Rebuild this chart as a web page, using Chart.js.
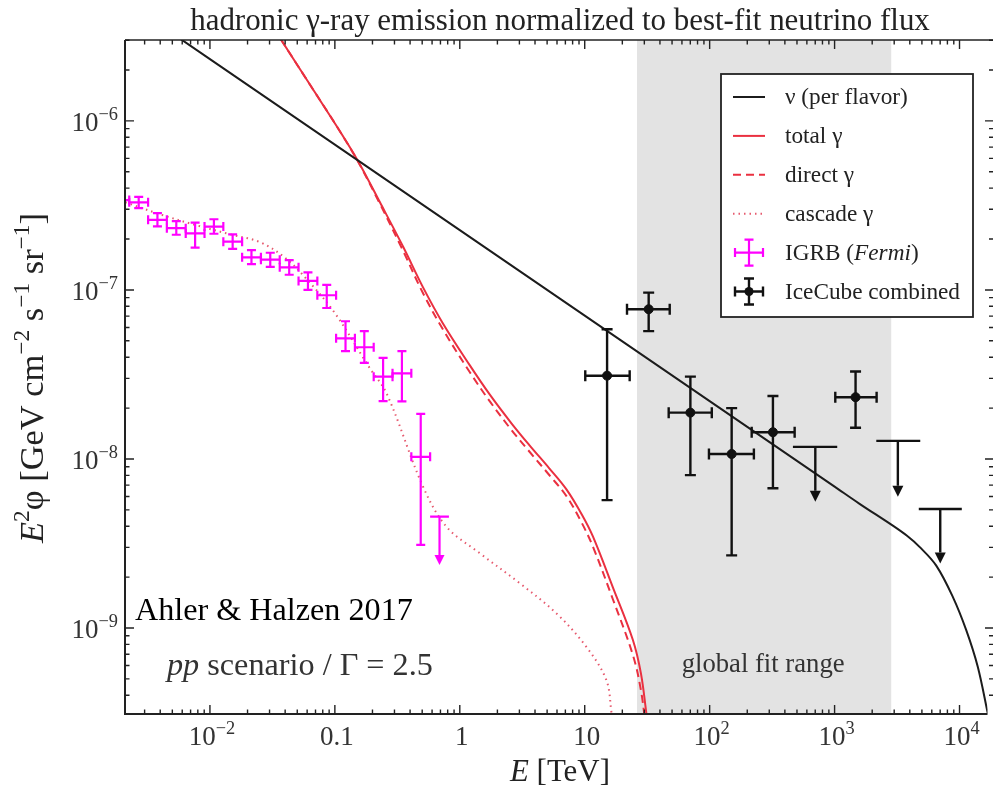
<!DOCTYPE html>
<html><head><meta charset="utf-8">
<script src="https://cdn.jsdelivr.net/npm/chart.js@4.4.1/dist/chart.umd.min.js"></script>
<style>html,body{margin:0;padding:0;background:#fff;}canvas{display:block;}</style>
</head><body>
<canvas id="c" width="993" height="790"></canvas>
<script>
// ---------------- data ----------------
const xRange = [0.00209, 16750];      // E [TeV]
const yRange = [3.1e-10, 3.01e-6];    // E^2 phi

const xTickValues = [0.01, 0.1, 1, 10, 100, 1000, 10000];
const xTickLabels = ['10^−2', '0.1', '1', '10', '10^2', '10^3', '10^4'];
const yTickValues = [1e-9, 1e-8, 1e-7, 1e-6];
const yTickLabels = ['10^−9', '10^−8', '10^−7', '10^−6'];

// neutrino (per flavor)
const nuE    = [0.002, 0.01, 0.1, 1, 10, 100, 1000, 1585, 2926, 3800, 4786, 6513, 8836, 11320, 14000, 16830];
const nuFlux = [5.24e-6, 2.32e-6, 7.24e-7, 2.26e-7, 7.05e-8, 2.2e-8, 6.86e-9, 5.43e-9, 4.03e-9, 3.51e-9, 3.02e-9, 2.34e-9, 1.53e-9, 9.72e-10, 5.9e-10, 3.13e-10];

// total and direct gamma
const gamE     = [0.025, 0.0363, 0.0631, 0.1032, 0.1535, 0.229, 0.352, 0.508, 0.735, 1.20, 1.74, 2.60, 3.63, 5.20, 7.14, 9.50, 11.65, 16.8, 24.3, 28.2, 31.2];
const totFlux  = [4.75e-6, 3.10e-6, 1.64e-6, 9.33e-7, 5.78e-7, 3.31e-7, 1.80e-7, 1.035e-7, 6.31e-8, 3.59e-8, 2.40e-8, 1.62e-8, 1.20e-8, 8.81e-9, 6.61e-9, 4.68e-9, 3.47e-9, 1.74e-9, 8.49e-10, 5.37e-10, 3.10e-10];
const dirFlux  = [4.75e-6, 3.10e-6, 1.64e-6, 9.33e-7, 5.73e-7, 3.24e-7, 1.70e-7, 9.55e-8, 5.82e-8, 3.27e-8, 2.19e-8, 1.48e-8, 1.10e-8, 8.04e-9, 6.03e-9, 4.17e-9, 3.02e-9, 1.48e-9, 6.92e-10, 4.27e-10, 2.40e-10];

// cascade gamma
const cascE    = [0.0021, 0.004, 0.008, 0.015, 0.025, 0.04, 0.06, 0.1, 0.19, 0.259, 0.508, 0.783, 1.445, 3.02, 5.94, 10.3, 14.9, 16.4];
const cascFlux = [3.3e-7, 2.8e-7, 2.4e-7, 2.12e-7, 1.92e-7, 1.55e-7, 1.15e-7, 7.3e-8, 3.45e-8, 2.45e-8, 6.86e-9, 3.97e-9, 2.77e-9, 1.84e-9, 1.22e-9, 7.74e-10, 4.92e-10, 3.14e-10];

// IGRB (Fermi)
const igrbE    = [0.0019, 0.00269, 0.0038, 0.00538, 0.00761, 0.01076, 0.0152, 0.0215, 0.0304, 0.0431, 0.0609, 0.0861, 0.1217, 0.1721, 0.2433, 0.3442, 0.4867];
const igrbElo  = [0.0016, 0.00226, 0.0032, 0.00452, 0.0064, 0.00905, 0.0128, 0.0181, 0.0256, 0.0362, 0.0512, 0.0724, 0.1023, 0.1447, 0.2046, 0.2894, 0.4093];
const igrbEhi  = [0.00226, 0.0032, 0.00452, 0.0064, 0.00905, 0.0128, 0.0181, 0.0256, 0.0362, 0.0512, 0.0724, 0.1023, 0.1447, 0.2046, 0.2894, 0.4093, 0.5788];
const igrbFlux = [3.4e-7, 3.3e-7, 2.6e-7, 2.32e-7, 2.16e-7, 2.37e-7, 1.93e-7, 1.56e-7, 1.51e-7, 1.36e-7, 1.13e-7, 9.3e-8, 5.17e-8, 4.58e-8, 3.07e-8, 3.21e-8, 1.03e-8];
const igrbLo   = [3.15e-7, 3.05e-7, 2.38e-7, 2.12e-7, 1.78e-7, 2.15e-7, 1.75e-7, 1.42e-7, 1.37e-7, 1.23e-7, 1.0e-7, 7.82e-8, 4.34e-8, 3.7e-8, 2.2e-8, 2.19e-8, 3.1e-9];
const igrbHi   = [3.65e-7, 3.55e-7, 2.85e-7, 2.55e-7, 2.5e-7, 2.62e-7, 2.13e-7, 1.72e-7, 1.66e-7, 1.5e-7, 1.27e-7, 1.07e-7, 6.53e-8, 5.7e-8, 3.96e-8, 4.34e-8, 1.85e-8];
const igrbUlE = [0.6883], igrbUlElo = [0.5788], igrbUlEhi = [0.8185], igrbUlFlux = [4.56e-9], igrbUlTo = [2.36e-9];

// IceCube combined
const icE    = [15.1, 32.5, 70.1, 150, 321, 1472];
const icElo  = [10.1, 21.8, 47, 98.7, 217, 1013];
const icEhi  = [22.9, 47.9, 104, 226, 479, 2170];
const icFlux = [3.11e-8, 7.69e-8, 1.88e-8, 1.07e-8, 1.44e-8, 2.32e-8];
const icLo   = [5.71e-9, 5.71e-8, 8.03e-9, 2.69e-9, 6.71e-9, 1.53e-8];
const icHi   = [5.85e-8, 9.64e-8, 3.07e-8, 2.0e-8, 2.36e-8, 3.29e-8];
const icUlE = [701, 3210, 7010], icUlElo = [464, 2157, 4720], icUlEhi = [1050, 4850, 10430];
const icUlFlux = [1.18e-8, 1.28e-8, 5.06e-9], icUlTo = [5.58e-9, 5.98e-9, 2.41e-9];

const fitRange = [26.2, 2840];

// ---------------- drawing helpers ----------------
const SERIF = '"Liberation Serif", "Times New Roman", "DejaVu Serif", serif';
const RED = '#ea3040', RED_L = '#e65a6e', MAG = '#ff00ff', BLK = '#1c1c1c';

function parseLabel(s) {
  const i = s.indexOf('^');
  if (i < 0) return [{t: s}];
  return [{t: s.slice(0, i)}, {t: s.slice(i + 1), sup: true}];
}
function measureRich(ctx, parts, size) {
  let w = 0;
  parts.forEach(p => {
    const s = p.sup ? size * 0.68 : size;
    ctx.font = (p.it ? 'italic ' : '') + s + 'px ' + SERIF;
    w += ctx.measureText(p.t).width;
  });
  return w;
}
function drawRich(ctx, parts, x, y, size, align, color) {
  const w = measureRich(ctx, parts, size);
  let x0 = align === 'center' ? x - w / 2 : (align === 'right' ? x - w : x);
  ctx.fillStyle = color; ctx.textAlign = 'left'; ctx.textBaseline = 'alphabetic';
  parts.forEach(p => {
    const s = p.sup ? size * 0.68 : size;
    ctx.font = (p.it ? 'italic ' : '') + s + 'px ' + SERIF;
    ctx.fillText(p.t, x0, p.sup ? y - size * 0.42 : y);
    x0 += ctx.measureText(p.t).width;
  });
}
function fitSize(ctx, parts, width) {
  return 20 * width / measureRich(ctx, parts, 20);
}
function errCross(ctx, x, y, xl, xh, yl, yh, cap) {
  ctx.beginPath();
  ctx.moveTo(xl, y); ctx.lineTo(xh, y);
  ctx.moveTo(x, yl); ctx.lineTo(x, yh);
  ctx.moveTo(xl, y - cap); ctx.lineTo(xl, y + cap);
  ctx.moveTo(xh, y - cap); ctx.lineTo(xh, y + cap);
  ctx.moveTo(x - cap, yl); ctx.lineTo(x + cap, yl);
  ctx.moveTo(x - cap, yh); ctx.lineTo(x + cap, yh);
  ctx.stroke();
}
function upperLimit(ctx, x, y, xl, xh, yTo, head) {
  ctx.beginPath();
  ctx.moveTo(xl, y); ctx.lineTo(xh, y);
  ctx.moveTo(x, y); ctx.lineTo(x, yTo - head);
  ctx.stroke();
  ctx.beginPath();
  ctx.moveTo(x - head / 2, yTo - head); ctx.lineTo(x + head / 2, yTo - head); ctx.lineTo(x, yTo);
  ctx.closePath(); ctx.fill();
}

const xy = (xs, ys) => xs.map((x, i) => ({x: x, y: ys[i]}));

const decorPlugin = {
  id: 'decor',
  beforeDatasetsDraw(chart) {
    const {ctx, chartArea: a, scales: {x}} = chart;
    ctx.save();
    const x0 = x.getPixelForValue(fitRange[0]), x1 = x.getPixelForValue(fitRange[1]);
    ctx.fillStyle = '#e3e3e3';
    ctx.fillRect(x0, a.top, x1 - x0, a.bottom - a.top);
    const parts = [{t: 'global fit range'}];
    drawRich(ctx, parts, (x0 + x1) / 2 - 1, 672, fitSize(ctx, parts, 163), 'center', '#333');
    ctx.restore();
  },
  afterDatasetsDraw(chart) {
    const {ctx, chartArea: a, scales: {x, y}} = chart;
    const px = v => x.getPixelForValue(v), py = v => y.getPixelForValue(v);
    ctx.save();
    ctx.beginPath(); ctx.rect(a.left, a.top, a.right - a.left, a.bottom - a.top); ctx.clip();
    // IGRB error crosses
    ctx.strokeStyle = MAG; ctx.fillStyle = MAG; ctx.lineWidth = 2.2;
    igrbE.forEach((e, i) => errCross(ctx, px(e), py(igrbFlux[i]), px(igrbElo[i]), px(igrbEhi[i]), py(igrbLo[i]), py(igrbHi[i]), 4.5));
    igrbUlE.forEach((e, i) => upperLimit(ctx, px(e), py(igrbUlFlux[i]), px(igrbUlElo[i]), px(igrbUlEhi[i]), py(igrbUlTo[i]), 10));
    // IceCube
    ctx.strokeStyle = '#111'; ctx.fillStyle = '#111'; ctx.lineWidth = 2.4;
    icE.forEach((e, i) => errCross(ctx, px(e), py(icFlux[i]), px(icElo[i]), px(icEhi[i]), py(icLo[i]), py(icHi[i]), 5.5));
    icUlE.forEach((e, i) => upperLimit(ctx, px(e), py(icUlFlux[i]), px(icUlElo[i]), px(icUlEhi[i]), py(icUlTo[i]), 11));
    ctx.restore();

    // ---------- frame and ticks ----------
    ctx.save();
    ctx.strokeStyle = '#222';
    ctx.lineWidth = 2;
    ctx.beginPath();
    ctx.moveTo(a.left, a.top); ctx.lineTo(a.left, a.bottom); ctx.lineTo(a.right, a.bottom);
    ctx.stroke();
    ctx.lineWidth = 1.6;
    ctx.beginPath(); ctx.moveTo(a.left, a.top); ctx.lineTo(993, a.top); ctx.stroke();
    const minorX = [], minorY = [];
    for (let d = -3; d <= 4; d++) for (let m = 2; m <= 9; m++) minorX.push(m * Math.pow(10, d));
    for (let d = -10; d <= -6; d++) for (let m = 2; m <= 9; m++) minorY.push(m * Math.pow(10, d));
    ctx.lineWidth = 1.4;
    ctx.beginPath();
    const inX = v => v >= xRange[0] && v <= xRange[1], inY = v => v >= yRange[0] && v <= yRange[1];
    xTickValues.forEach(v => { const p = px(v); ctx.moveTo(p, a.bottom); ctx.lineTo(p, a.bottom - 9); ctx.moveTo(p, a.top); ctx.lineTo(p, a.top + 9); });
    minorX.filter(inX).forEach(v => { const p = px(v); ctx.moveTo(p, a.bottom); ctx.lineTo(p, a.bottom - 4.5); ctx.moveTo(p, a.top); ctx.lineTo(p, a.top + 4.5); });
    yTickValues.forEach(v => { const p = py(v); ctx.moveTo(a.left, p); ctx.lineTo(a.left + 9, p); ctx.moveTo(993, p); ctx.lineTo(985, p); });
    minorY.filter(inY).forEach(v => { const p = py(v); ctx.moveTo(a.left, p); ctx.lineTo(a.left + 4.5, p); ctx.moveTo(993, p); ctx.lineTo(989, p); });
    ctx.stroke();
    // tick labels
    xTickValues.forEach((v, i) => drawRich(ctx, parseLabel(xTickLabels[i]), px(v) + 2, 745, 27, 'center', '#333'));
    yTickValues.forEach((v, i) => drawRich(ctx, parseLabel(yTickLabels[i]), 118, py(v) + 10, 27, 'right', '#333'));

    // axis titles
    const xt = [{t: 'E', it: true}, {t: ' [TeV]'}];
    drawRich(ctx, xt, 510, 781, fitSize(ctx, xt, 100), 'left', '#222');
    const yt = [{t: 'E', it: true}, {t: '2', sup: true}, {t: 'φ [GeV cm'}, {t: '−2', sup: true}, {t: ' s'}, {t: '−1', sup: true}, {t: ' sr'}, {t: '−1', sup: true}, {t: ']'}];
    ctx.save(); ctx.translate(43, 378); ctx.rotate(-Math.PI / 2);
    drawRich(ctx, yt, 0, 0, fitSize(ctx, yt, 330), 'center', '#222');
    ctx.restore();

    // title
    const tt = [{t: 'hadronic γ-ray emission normalized to best-fit neutrino flux'}];
    drawRich(ctx, tt, 560, 30, fitSize(ctx, tt, 740), 'center', '#222');

    // annotations
    const ah = [{t: 'Ahler & Halzen 2017'}];
    drawRich(ctx, ah, 135, 620, fitSize(ctx, ah, 278), 'left', '#000');
    const pp = [{t: 'pp', it: true}, {t: ' scenario / Γ = 2.5'}];
    drawRich(ctx, pp, 167, 675, fitSize(ctx, pp, 266), 'left', '#333');

    // legend
    const L = {x0: 721, y0: 74, x1: 973, y1: 317};
    ctx.fillStyle = '#fff'; ctx.fillRect(L.x0, L.y0, L.x1 - L.x0, L.y1 - L.y0);
    ctx.strokeStyle = '#222'; ctx.lineWidth = 1.8; ctx.strokeRect(L.x0, L.y0, L.x1 - L.x0, L.y1 - L.y0);
    const ds = chart.data.datasets;
    const rowY = i => 97 + i * 38.9;
    const lx0 = 733, lx1 = 765, tx = 785;
    const lblFont = fitSize(ctx, [{t: 'IceCube combined'}], 175);
    ds.forEach((d, i) => {
      const yy = rowY(i);
      ctx.save();
      if (i <= 3) {
        ctx.strokeStyle = d.borderColor; ctx.lineWidth = d.borderWidth;
        ctx.setLineDash(d.borderDash || []);
        ctx.beginPath(); ctx.moveTo(lx0, yy); ctx.lineTo(lx1, yy); ctx.stroke();
      } else if (i === 4) {
        ctx.strokeStyle = MAG; ctx.lineWidth = 2.2;
        errCross(ctx, 749, yy, lx0 + 2, lx1 - 2, yy + 13, yy - 13, 4.5);
      } else {
        ctx.strokeStyle = '#111'; ctx.fillStyle = '#111'; ctx.lineWidth = 2.4;
        errCross(ctx, 749, yy, lx0 + 2, lx1 - 2, yy + 13, yy - 13, 5);
        ctx.beginPath(); ctx.arc(749, yy, 4.5, 0, Math.PI * 2); ctx.fill();
      }
      ctx.restore();
      let parts = [{t: d.label}];
      if (i === 4) parts = [{t: 'IGRB ('}, {t: 'Fermi', it: true}, {t: ')'}];
      drawRich(ctx, parts, tx, yy + 7, lblFont, 'left', '#222');
    });
    ctx.restore();
  }
};

const lineStyle = {pointRadius: 0, tension: 0.35, fill: false};
new Chart(document.getElementById('c').getContext('2d'), {
  type: 'line',
  data: {
    datasets: [
      Object.assign({label: 'ν (per flavor)', data: xy(nuE, nuFlux), borderColor: BLK, borderWidth: 2}, lineStyle),
      Object.assign({label: 'total γ', data: xy(gamE, totFlux), borderColor: RED, borderWidth: 2}, lineStyle),
      Object.assign({label: 'direct γ', data: xy(gamE, dirFlux), borderColor: RED, borderWidth: 2, borderDash: [8, 5]}, lineStyle),
      Object.assign({label: 'cascade γ', data: xy(cascE, cascFlux), borderColor: RED_L, borderWidth: 2, borderDash: [1.5, 4]}, lineStyle),
      {label: 'IGRB (Fermi)', data: xy(igrbE, igrbFlux), showLine: false, pointRadius: 0, borderColor: MAG, backgroundColor: MAG},
      {label: 'IceCube combined', data: xy(icE, icFlux), showLine: false, pointRadius: 4.5, pointBackgroundColor: '#111', pointBorderColor: '#111', borderColor: '#111'}
    ]
  },
  options: {
    responsive: false, animation: false, events: [],
    layout: {padding: {left: 125, top: 40, right: 5, bottom: 76}},
    scales: {
      x: {type: 'logarithmic', min: xRange[0], max: xRange[1], display: false},
      y: {type: 'logarithmic', min: yRange[0], max: yRange[1], display: false}
    },
    plugins: {legend: {display: false}, tooltip: {enabled: false}}
  },
  plugins: [decorPlugin]
});
</script>
</body></html>
